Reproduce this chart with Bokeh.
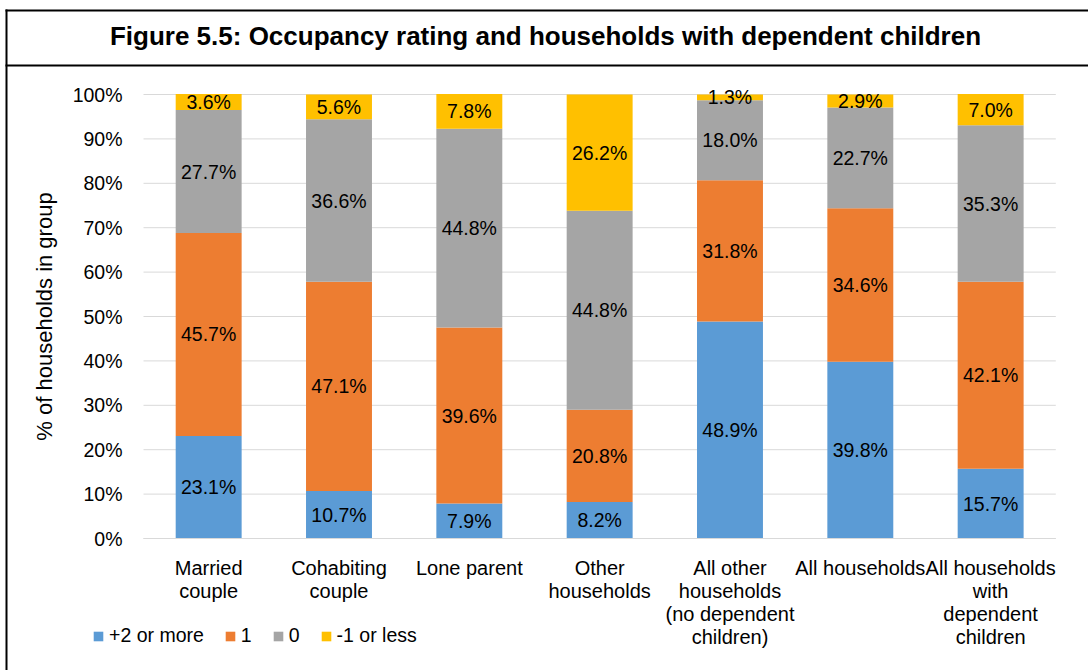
from bokeh.plotting import figure
from bokeh.models import (ColumnDataSource, FixedTicker, Legend, LegendItem,
                          LabelSet, Label, Range1d)
from bokeh.core.properties import value
from bokeh.embed import file_html
from bokeh.resources import INLINE

# ---------------- data ----------------
categories = ["Married\ncouple", "Cohabiting\ncouple", "Lone parent",
              "Other\nhouseholds",
              "All other\nhouseholds\n(no dependent\nchildren)",
              "All households",
              "All households\nwith\ndependent\nchildren"]
series_names = ["+2 or more", "1", "0", "-1 or less"]
plus2 = [23.1, 10.7, 7.9, 8.2, 48.9, 39.8, 15.7]
one = [45.7, 47.1, 39.6, 20.8, 31.8, 34.6, 42.1]
zero = [27.7, 36.6, 44.8, 44.8, 18.0, 22.7, 35.3]
minus1 = [3.6, 5.6, 7.8, 26.2, 1.3, 2.9, 7.0]
y_ticks = [0, 10, 20, 30, 40, 50, 60, 70, 80, 90, 100]
title_text = "Figure 5.5: Occupancy rating and households with dependent children"
y_label = "% of households in group"

colors = ["#5B9BD5", "#ED7D31", "#A5A5A5", "#FFC000"]
FONT = "Liberation Sans"
keys = ["plus2", "one", "zero", "minus1"]

# ---------------- layout geometry (page pixels) ----------------
PAGE_W, PAGE_H = 1088, 670
AX_X0 = 143.0       # page x of category-axis start
PX_CAT = 130.33     # pixels per category
AX_Y0 = 538.0       # page y of 0 %
PX_PCT = 4.44       # pixels per percent


def px2x(px):
    return (px - AX_X0) / PX_CAT


def py2y(py):
    return (AX_Y0 - py) / PX_PCT


x_range = Range1d(px2x(0), px2x(PAGE_W))
y_range = Range1d(py2y(PAGE_H), py2y(0))

centers = [i + 0.5 for i in range(len(categories))]
n_cat = len(categories)

source = ColumnDataSource(dict(x=centers, plus2=plus2, one=one,
                               zero=zero, minus1=minus1))

p = figure(x_range=x_range, y_range=y_range, width=PAGE_W, height=PAGE_H,
           output_backend="svg", toolbar_location=None,
           min_border=0, min_border_left=0, min_border_right=0,
           min_border_top=0, min_border_bottom=0)
p.outline_line_color = None
p.background_fill_color = "white"
p.border_fill_color = "white"
p.xgrid.grid_line_color = None
p.ygrid.grid_line_color = None

# chart box: left border, top border, title separator
p.segment(x0=[px2x(6), px2x(5), px2x(5)],
          y0=[py2y(9), py2y(10), py2y(65)],
          x1=[px2x(6), px2x(1090), px2x(1090)],
          y1=[py2y(680), py2y(10), py2y(65)],
          line_color="black", line_width=2)

# title
p.add_layout(Label(x=px2x(545), y=py2y(35), text=title_text,
                   text_align="center", text_baseline="middle",
                   text_font=FONT, text_font_size="26px",
                   text_font_style="bold", text_color="black"))

# gridlines across the category span
p.segment(x0=[0] * len(y_ticks), x1=[n_cat] * len(y_ticks), y0=y_ticks,
          y1=y_ticks, line_color="#D9D9D9", line_width=1, level="underlay")

renderers = p.vbar_stack(keys, x="x", width=0.506, color=colors,
                         source=source, line_color=None)

# labels at segment centres
values = [plus2, one, zero, minus1]
lx, ly, lt = [], [], []
for i, c in enumerate(centers):
    base = 0.0
    for s in values:
        v = s[i]
        lx.append(c)
        ly.append(base + v / 2.0)
        lt.append(f"{v:.1f}%")
        base += v
lsrc = ColumnDataSource(dict(x=lx, y=ly, t=lt))
p.add_layout(LabelSet(x="x", y="y", text="t", source=lsrc,
                      text_align="center", text_baseline="middle",
                      text_font=value(FONT), text_font_size="19.5px",
                      text_color="black"))

# y axis (fixed at category-axis start)
ya = p.yaxis[0]
ya.fixed_location = 0
ya.bounds = (0, 100)
ya.ticker = FixedTicker(ticks=y_ticks)
ya.major_label_overrides = {t: f"{t}%" for t in y_ticks}
ya.major_label_text_font = FONT
ya.major_label_text_font_size = "19.5px"
ya.major_label_text_color = "#000000"
ya.major_label_standoff = 21
ya.axis_line_color = None
ya.major_tick_line_color = None
ya.minor_tick_line_color = None
ya.major_tick_out = 0
ya.major_tick_in = 0
ya.axis_label = y_label
ya.axis_label_text_font = FONT
ya.axis_label_text_font_size = "22px"
ya.axis_label_text_font_style = "normal"
ya.axis_label_text_color = "#000000"
ya.axis_label_standoff = 13

# x axis (fixed at 0 %)
xa = p.xaxis[0]
xa.fixed_location = 0
xa.bounds = (0, n_cat)
xa.ticker = FixedTicker(ticks=centers)
xa.major_label_overrides = dict(zip(centers, categories))
xa.major_label_text_font = FONT
xa.major_label_text_font_size = "20px"
xa.major_label_text_color = "#000000"
xa.major_label_text_line_height = 1.05
xa.major_label_standoff = 18
xa.axis_line_color = "#D9D9D9"
xa.axis_line_width = 1
xa.major_tick_line_color = None
xa.minor_tick_line_color = None
xa.major_tick_out = 0
xa.major_tick_in = 0

legend = Legend(items=[LegendItem(label=n, renderers=[r])
                       for n, r in zip(series_names, renderers)],
                orientation="horizontal", location=(92, 23),
                glyph_width=12, glyph_height=12, label_standoff=5,
                spacing=20, padding=0, margin=0, label_height=20,
                label_width=0,
                label_text_font=FONT, label_text_font_size="19.5px",
                label_text_color="#000000",
                border_line_color=None, background_fill_alpha=0)
p.add_layout(legend)

open("out.html", "w").write(file_html(p, INLINE))
